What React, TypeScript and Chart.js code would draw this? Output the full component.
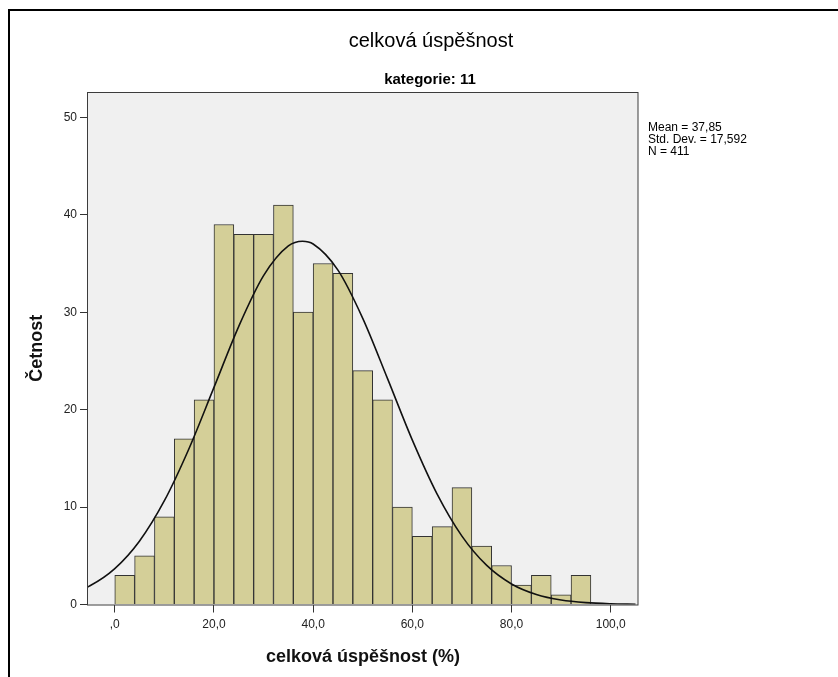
import React, { useEffect, useRef } from "react";
import { Chart, registerables } from "chart.js";

Chart.register(...registerables);

// ---------- data ----------
const BIN_WIDTH = 4;
const BIN_STARTS = [0, 4, 8, 12, 16, 20, 24, 28, 32, 36, 40, 44, 48, 52, 56, 60, 64, 68, 72, 76, 80, 84, 88, 92];
const COUNTS = [3, 5, 9, 17, 21, 39, 38, 38, 41, 30, 35, 34, 24, 21, 10, 7, 8, 12, 6, 4, 2, 3, 1, 3];

const CURVE_X = [-10, -5, 0, 5, 10, 15, 20, 25, 30, 35, 37.85, 40, 45, 50, 55, 60, 65, 70, 75, 80, 85, 90, 95, 100, 105];
const CURVE_Y = [0.92, 1.92, 3.68, 6.52, 10.65, 16.04, 22.28, 28.55, 33.75, 36.8, 37.28, 37.0, 34.32, 29.37, 23.18, 16.87, 11.33, 7.02, 4.01, 2.11, 1.03, 0.46, 0.19, 0.07, 0.02];

const X_TICKS = [0, 20, 40, 60, 80, 100];
const X_TICK_LABELS = [",0", "20,0", "40,0", "60,0", "80,0", "100,0"];
const Y_TICKS = [0, 10, 20, 30, 40, 50];
const Y_TICK_LABELS = ["0", "10", "20", "30", "40", "50"];

const X_MIN = -5.4;
const X_MAX = 105.5;
const Y_MAX = 52.6;

const TITLE = "celková úspěšnost";
const SUBTITLE = "kategorie: 11";
const X_TITLE = "celková úspěšnost (%)";
const Y_TITLE = "Četnost";
const STATS = ["Mean = 37,85", "Std. Dev. = 17,592", "N = 411"];

const FONT = "Arial, 'Liberation Sans', sans-serif";

const decorPlugin = {
  id: "decor",
  beforeDraw(chart: any) {
    const { ctx, chartArea: a } = chart;
    ctx.save();
    ctx.fillStyle = "#f0f0f0";
    ctx.fillRect(a.left, a.top, a.right - a.left, a.bottom - a.top);
    ctx.restore();
  },
  afterDatasetsDraw(chart: any) {
    const { ctx, chartArea: a } = chart;
    ctx.save();
    ctx.strokeStyle = "#3c3c3c";
    ctx.lineWidth = 1;
    ctx.strokeRect(Math.round(a.left) - 0.5, Math.round(a.top) + 0.5, Math.round(a.right - a.left) + 0.5, Math.round(a.bottom - a.top) - 0.5);
    ctx.restore();
  },
  afterDraw(chart: any) {
    const { ctx } = chart;
    ctx.save();
    ctx.fillStyle = "#000";
    ctx.textAlign = "center";
    ctx.textBaseline = "alphabetic";
    ctx.font = `20px ${FONT}`;
    ctx.fillText(TITLE, 431, 47);
    ctx.font = `bold 15px ${FONT}`;
    ctx.fillText(SUBTITLE, 430, 84);
    ctx.textAlign = "left";
    ctx.textBaseline = "middle";
    ctx.font = `12px ${FONT}`;
    STATS.forEach((s, i) => ctx.fillText(s, 648, 128 + i * 12));
    ctx.restore();
  },
};

export default function App() {
  const canvasRef = useRef<HTMLCanvasElement | null>(null);

  useEffect(() => {
    const canvas = canvasRef.current;
    if (!canvas) return;
    const barData = BIN_STARTS.map((s, i) => ({ x: s + BIN_WIDTH / 2, y: COUNTS[i] }));
    const curveData = CURVE_X.map((x, i) => ({ x, y: CURVE_Y[i] }));

    const chart = new Chart(canvas, {
      type: "bar",
      data: {
        datasets: [
          {
            type: "line",
            data: curveData,
            borderColor: "#111",
            borderWidth: 1.6,
            pointRadius: 0,
            fill: false,
            cubicInterpolationMode: "monotone",
            order: 1,
          } as any,
          {
            type: "bar",
            data: barData,
            backgroundColor: "#d4cf98",
            borderColor: "#333",
            borderWidth: 1,
            barPercentage: 1,
            categoryPercentage: 1,
            order: 2,
          } as any,
        ],
      },
      plugins: [decorPlugin],
      options: {
        responsive: false,
        animation: false,
        devicePixelRatio: 1,
        layout: { padding: { left: 0, top: 92, right: 200, bottom: 0 } },
        plugins: {
          legend: { display: false },
          tooltip: { enabled: false },
          title: { display: false },
        },
        scales: {
          x: {
            type: "linear",
            min: X_MIN,
            max: X_MAX,
            offset: false,
            grid: { offset: false, drawOnChartArea: false, drawTicks: true, tickLength: 8, color: "#333" },
            border: { display: false },
            afterBuildTicks: (scale: any) => {
              scale.ticks = X_TICKS.map((v) => ({ value: v }));
            },
            afterFit: (scale: any) => {
              scale.height = 72.5;
            },
            ticks: {
              color: "#222",
              font: { family: FONT, size: 12 },
              padding: 5,
              maxRotation: 0,
              autoSkip: false,
              callback: (v: any) => X_TICK_LABELS[X_TICKS.indexOf(Number(v))],
            },
            title: {
              display: true,
              text: X_TITLE,
              color: "#111",
              font: { family: FONT, size: 18, weight: "bold", lineHeight: 1.2 },
              padding: { top: 0, bottom: 9 },
            },
          },
          y: {
            type: "linear",
            min: 0,
            max: Y_MAX,
            grid: { drawOnChartArea: false, drawTicks: true, tickLength: 8, color: "#333" },
            border: { display: false },
            afterBuildTicks: (scale: any) => {
              scale.ticks = Y_TICKS.map((v) => ({ value: v }));
            },
            afterFit: (scale: any) => {
              scale.width = 88;
            },
            ticks: {
              color: "#222",
              font: { family: FONT, size: 12 },
              padding: 3,
              autoSkip: false,
              callback: (v: any) => Y_TICK_LABELS[Y_TICKS.indexOf(Number(v))],
            },
            title: {
              display: true,
              text: Y_TITLE,
              color: "#111",
              font: { family: FONT, size: 18, weight: "bold", lineHeight: 1.2 },
              padding: { top: 26, bottom: 0 },
            },
          },
        },
      },
    });
    return () => chart.destroy();
  }, []);

  return (
    <>
      <div
        style={{
          position: "fixed",
          left: 8,
          top: 9,
          width: 830,
          height: 668,
          boxSizing: "border-box",
          borderTop: "2px solid #000",
          borderLeft: "2px solid #000",
        }}
      />
      <div style={{ position: "fixed", left: 0, top: 0, width: 838, height: 677 }}>
        <canvas ref={canvasRef} width={838} height={677} style={{ width: 838, height: 677, display: "block" }} />
      </div>
    </>
  );
}
